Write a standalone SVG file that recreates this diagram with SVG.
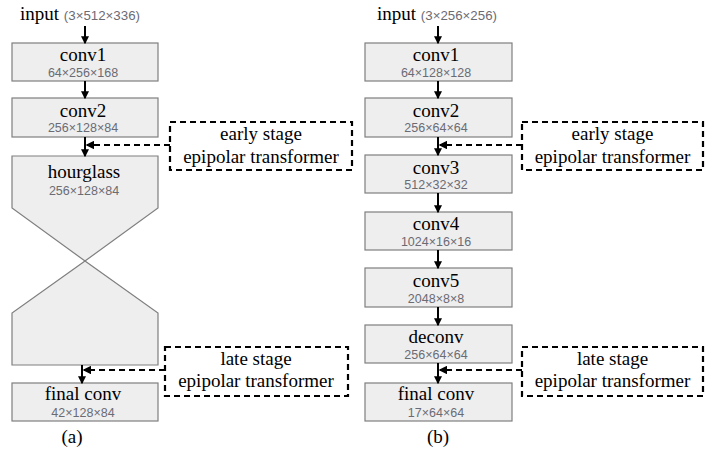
<svg xmlns="http://www.w3.org/2000/svg" width="711" height="450" viewBox="0 0 711 450">
<defs>
<style>
.box{fill:#eeeeee;stroke:#7f7f7f;stroke-width:1.2}
.lbl{font-family:"Liberation Serif","Times New Roman",serif;font-size:19px;fill:#000;text-anchor:middle}
.lbll{font-family:"Liberation Serif","Times New Roman",serif;font-size:19px;fill:#000}
.sub{font-family:"Liberation Sans",Arial,sans-serif;font-size:12.5px;fill:#6b6b74;text-anchor:middle}
.subl{font-family:"Liberation Sans",Arial,sans-serif;font-size:13.3px;fill:#6b6b74}
.dbox{fill:#fff;stroke:#000;stroke-width:2.2;stroke-dasharray:6,4}
.arr{stroke:#000;stroke-width:2;fill:none;marker-end:url(#ah)}
.darr{stroke:#000;stroke-width:2.2;fill:none;stroke-dasharray:6,4;marker-end:url(#ah)}
</style>
<marker id="ah" viewBox="0 0 6 6" refX="5" refY="3" markerWidth="4" markerHeight="4" orient="auto" markerUnits="strokeWidth">
<path d="M0,0 L6,3 L0,6 Z" fill="#000"/>
</marker>
</defs>
<rect width="711" height="450" fill="#fff"/>

<!-- Panel (a) -->
<g id="a-input">
<text class="lbll" x="20" y="20">input <tspan class="subl">(3×512×336)</tspan></text>
</g>
<g id="a-conv1">
<rect class="box" x="12" y="43" width="146" height="38"/>
<text class="lbl" x="83" y="61">conv1</text>
<text class="sub" x="83" y="77">64×256×168</text>
</g>
<g id="a-conv2">
<rect class="box" x="12" y="98" width="146" height="39"/>
<text class="lbl" x="83" y="117">conv2</text>
<text class="sub" x="83" y="132">256×128×84</text>
</g>
<g id="a-hourglass">
<polygon class="box" points="12,156 158,156 158,208 85,261 12,208"/>
<polygon class="box" points="85,261 158,313 158,365 12,365 12,313"/>
<text class="lbl" x="84" y="178">hourglass</text>
<text class="sub" x="84" y="195">256×128×84</text>
</g>
<g id="a-early">
<rect class="dbox" x="170" y="122" width="182" height="48"/>
<text class="lbl" x="261" y="140">early stage</text>
<text class="lbl" x="261" y="163">epipolar transformer</text>
</g>
<g id="a-late">
<rect class="dbox" x="165" y="347" width="183" height="49"/>
<text class="lbl" x="256" y="365">late stage</text>
<text class="lbl" x="256" y="387">epipolar transformer</text>
</g>
<g id="a-final">
<rect class="box" x="12" y="383" width="146" height="38"/>
<text class="lbl" x="83" y="400">final conv</text>
<text class="sub" x="83" y="417">42×128×84</text>
</g>
<text class="lbl" x="72" y="443">(a)</text>

<!-- Panel (b) -->
<g id="b-input">
<text class="lbll" x="377" y="20">input <tspan class="subl">(3×256×256)</tspan></text>
</g>
<g id="b-conv1">
<rect class="box" x="365" y="43" width="147" height="38"/>
<text class="lbl" x="436" y="61">conv1</text>
<text class="sub" x="436" y="77">64×128×128</text>
</g>
<g id="b-conv2">
<rect class="box" x="365" y="98" width="147" height="39"/>
<text class="lbl" x="436" y="117">conv2</text>
<text class="sub" x="436" y="132">256×64×64</text>
</g>
<g id="b-conv3">
<rect class="box" x="365" y="155" width="147" height="38"/>
<text class="lbl" x="436" y="174">conv3</text>
<text class="sub" x="436" y="189">512×32×32</text>
</g>
<g id="b-conv4">
<rect class="box" x="365" y="212" width="147" height="38"/>
<text class="lbl" x="436" y="230">conv4</text>
<text class="sub" x="436" y="246">1024×16×16</text>
</g>
<g id="b-conv5">
<rect class="box" x="365" y="268" width="147" height="39"/>
<text class="lbl" x="436" y="287">conv5</text>
<text class="sub" x="436" y="303">2048×8×8</text>
</g>
<g id="b-deconv">
<rect class="box" x="365" y="325" width="147" height="38"/>
<text class="lbl" x="436" y="343">deconv</text>
<text class="sub" x="436" y="359">256×64×64</text>
</g>
<g id="b-final">
<rect class="box" x="365" y="383" width="147" height="38"/>
<text class="lbl" x="436" y="400">final conv</text>
<text class="sub" x="436" y="417">17×64×64</text>
</g>
<g id="b-early">
<rect class="dbox" x="522" y="122" width="181" height="48"/>
<text class="lbl" x="612.5" y="140">early stage</text>
<text class="lbl" x="612.5" y="163">epipolar transformer</text>
</g>
<g id="b-late">
<rect class="dbox" x="522" y="347" width="181" height="49"/>
<text class="lbl" x="612.5" y="365">late stage</text>
<text class="lbl" x="612.5" y="387">epipolar transformer</text>
</g>
<text class="lbl" x="438" y="443">(b)</text>

<!-- Connectors -->
<g id="connectors">
<line class="arr" x1="85" y1="26" x2="85" y2="43"/>
<line class="arr" x1="85" y1="81" x2="85" y2="98"/>
<line class="arr" x1="85" y1="137" x2="85" y2="156"/>
<line class="arr" x1="82" y1="365" x2="82" y2="383"/>
<line class="darr" x1="170" y1="145" x2="87" y2="145"/>
<line class="darr" x1="165" y1="370" x2="84" y2="370"/>

<line class="arr" x1="438" y1="26" x2="438" y2="43"/>
<line class="arr" x1="438" y1="81" x2="438" y2="98"/>
<line class="arr" x1="438" y1="137" x2="438" y2="155"/>
<line class="arr" x1="438" y1="193" x2="438" y2="212"/>
<line class="arr" x1="438" y1="250" x2="438" y2="268"/>
<line class="arr" x1="438" y1="307" x2="438" y2="325"/>
<line class="arr" x1="438" y1="363" x2="438" y2="383"/>
<line class="darr" x1="522" y1="145" x2="440" y2="145"/>
<line class="darr" x1="522" y1="370" x2="440" y2="370"/>
</g>
</svg>
